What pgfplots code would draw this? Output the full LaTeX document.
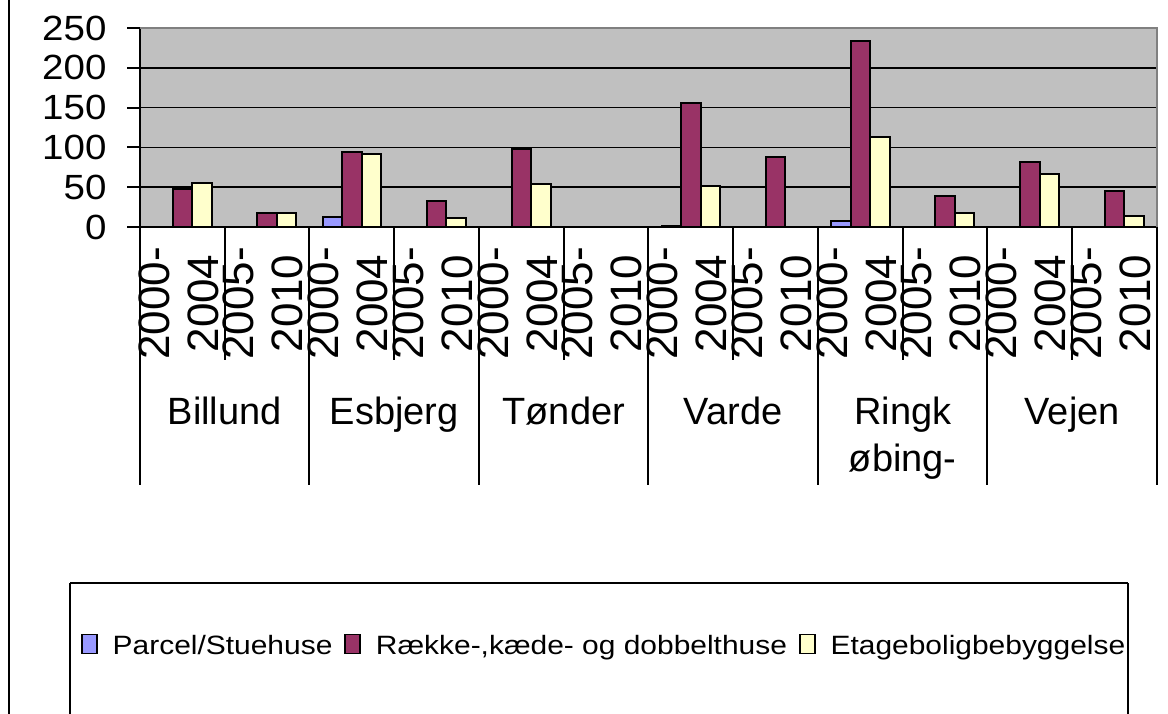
\documentclass[border=0pt]{standalone}
\usepackage{fontspec}
\setmainfont{Liberation Sans}
\newfontfamily\yfont[FakeStretch=1.1]{Liberation Sans}
\newfontfamily\lfont[FakeStretch=1.13]{Liberation Sans}
\usepackage{pgfplots}
\pgfplotsset{compat=1.18}
\definecolor{cblue}{HTML}{9999FF}
\definecolor{cmaroon}{HTML}{993366}
\definecolor{cyellow}{HTML}{FFFFCC}
\definecolor{cgrey}{HTML}{C0C0C0}
\definecolor{cborder}{HTML}{808080}
\begin{document}
\begin{tikzpicture}[x=1pt,y=1pt]
\useasboundingbox (0,0) rectangle (1168,714);
\draw[line width=2pt] (9,-2) -- (9,716);
\draw[line width=2pt] (70,131) -- (1128,131);
\draw[line width=2pt] (70,-5) -- (70,131);
\draw[line width=2pt] (1128,-5) -- (1128,131);
\begin{axis}[
  at={(140pt,487pt)}, anchor=south west,
  scale only axis, width=1017pt, height=199pt,
  ymin=0, ymax=250, xmin=-0.5, xmax=11.5,
  ybar=0pt, bar width=19.5pt,
  axis background/.style={fill=cgrey},
  axis x line*=bottom, axis y line*=left,
  axis line style={line width=2pt, black, -},
  ytick={0,50,...,250},
  ymajorgrids, major grid style={black, line width=1.6pt},
  tick align=outside, major tick length=13pt,
  ytick style={black, line width=2pt},
  xtick={0,...,11},
  xtick style={draw=none},
  xticklabels={{2000-\\2004},{2005-\\2010},{2000-\\2004},{2005-\\2010},{2000-\\2004},{2005-\\2010},{2000-\\2004},{2005-\\2010},{2000-\\2004},{2005-\\2010},{2000-\\2004},{2005-\\2010}},
  xticklabel style={yshift=-7pt, xshift=-4pt, rotate=90, anchor=east, align=center, inner sep=0pt, font=\fontsize{44}{49}\selectfont},
  /pgf/number format/assume math mode=true,
  yticklabel style={xshift=-17pt, font=\yfont\fontsize{35}{40}\selectfont},
  clip=false,
  legend columns=3,
  legend style={at={(axis description cs:-0.05801,-2.1005)}, anchor=west, draw=none, fill=none, inner sep=0pt,
    font=\lfont\fontsize{26.5}{32}\selectfont,
    nodes={inner xsep=0pt, inner ysep=0pt},
    /tikz/every even column/.append style={column sep=12pt},
    /tikz/every odd column/.append style={column sep=15pt}},
  legend image code/.code={\draw[#1, draw=black, line width=1.5pt] (0pt,-8pt) rectangle (15pt,11pt);},
]
\addplot[fill=cblue, draw=black, line width=2pt] table {
x y
2 12
6 1
8 8
};
\addplot[fill=cmaroon, draw=black, line width=2pt] table {
x y
0 48
1 18
2 94
3 33
4 98
6 156
7 88
8 234
9 39
10 82
11 45
};
\addplot[fill=cyellow, draw=black, line width=2pt] table {
x y
0 55
1 18
2 92
3 11
4 54
6 52
8 113
9 17
10 67
11 14
};
\addlegendentry{Parcel/Stuehuse}
\addlegendentry{Række-,kæde- og dobbelthuse}
\addlegendentry{Etageboligbebyggelse}
\draw[cborder, line width=2pt] (rel axis cs:0,1) -- (rel axis cs:1,1) -- (rel axis cs:1,0);
\pgfplotsinvokeforeach{-0.5,1.5,3.5,5.5,7.5,9.5,11.5}{\draw[line width=2pt] (axis cs:#1,0) -- ++(0pt,-258pt);}
\pgfplotsinvokeforeach{0.5,2.5,4.5,6.5,8.5,10.5}{\draw[line width=2pt] (axis cs:#1,0) -- ++(0pt,-133pt);}
\node[anchor=base, inner sep=0pt, yshift=-198pt, font=\fontsize{38}{44}\selectfont] at (axis cs:0.5,0) {Billund};
\node[anchor=base, inner sep=0pt, yshift=-198pt, font=\fontsize{38}{44}\selectfont] at (axis cs:2.5,0) {Esbjerg};
\node[anchor=base, inner sep=0pt, yshift=-198pt, font=\fontsize{38}{44}\selectfont] at (axis cs:4.5,0) {Tønder};
\node[anchor=base, inner sep=0pt, yshift=-198pt, font=\fontsize{38}{44}\selectfont] at (axis cs:6.5,0) {Varde};
\node[anchor=base, inner sep=0pt, yshift=-198pt, font=\fontsize{38}{44}\selectfont] at (axis cs:8.5,0) {Ringk};
\node[anchor=base, inner sep=0pt, yshift=-245pt, font=\fontsize{38}{44}\selectfont] at (axis cs:8.5,0) {øbing-};
\node[anchor=base, inner sep=0pt, yshift=-198pt, font=\fontsize{38}{44}\selectfont] at (axis cs:10.5,0) {Vejen};
\end{axis}
\end{tikzpicture}
\end{document}
